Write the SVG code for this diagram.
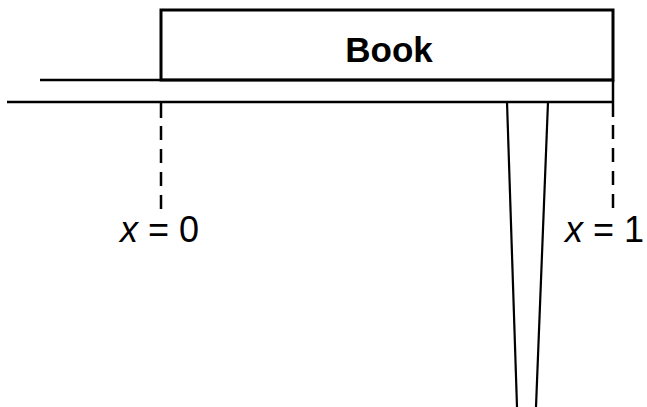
<svg xmlns="http://www.w3.org/2000/svg" width="647" height="407" viewBox="0 0 647 407">
<style>
.s{stroke:#000;fill:none;stroke-linecap:butt}
.dash{stroke:#000;stroke-width:2.5;stroke-dasharray:14 9;fill:none}
.lbl{font-family:"Liberation Sans",Arial,sans-serif;font-size:36px;fill:#000}
.it{font-style:italic}
</style>
<rect width="647" height="407" fill="#fff"/>
<g id="book">
<rect x="161" y="10" width="452" height="70" class="s" stroke-width="3"/>
<text x="389" y="62" text-anchor="middle" font-family="Liberation Sans,Arial,sans-serif" font-weight="bold" font-size="35">Book</text>
</g>
<g id="table">
<line x1="40" y1="80" x2="613" y2="80" class="s" stroke-width="2.5"/>
<line x1="7" y1="102" x2="613" y2="102" class="s" stroke-width="2.5"/>
<line x1="613" y1="80" x2="613" y2="117" class="s" stroke-width="2.5"/>
<line x1="507" y1="102" x2="517" y2="407" class="s" stroke-width="2.2"/>
<line x1="548" y1="102" x2="536" y2="407" class="s" stroke-width="2.2"/>
</g>
<g id="connectors">
<line x1="161" y1="102" x2="161" y2="118" class="s" stroke-width="2.5"/>
<line x1="161" y1="126" x2="161" y2="210" class="dash"/>
<line x1="613" y1="125" x2="613" y2="210" class="dash"/>
</g>
<g id="label-x0">
<text x="120" y="242" class="lbl"><tspan class="it">x</tspan> = 0</text>
</g>
<g id="label-x1">
<text x="644" y="242" class="lbl" text-anchor="end"><tspan class="it">x</tspan> = 1</text>
</g>
</svg>
